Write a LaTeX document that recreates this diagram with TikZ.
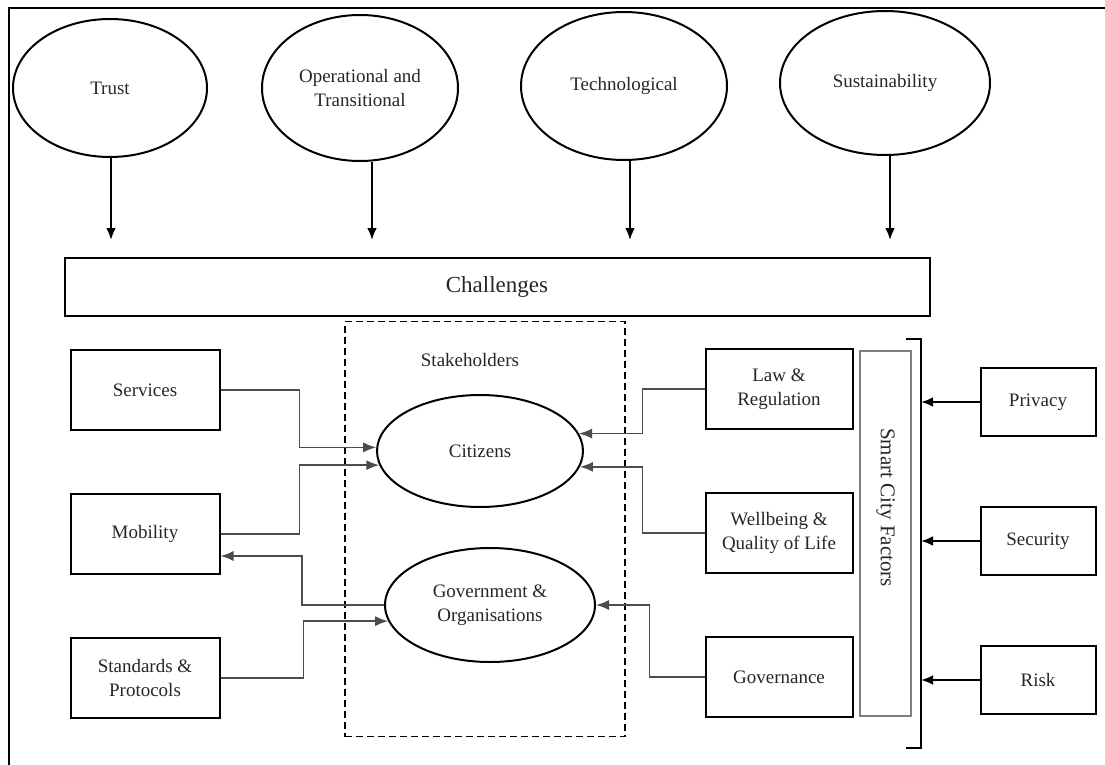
\documentclass[tikz,border=0pt]{standalone}
\usepackage{fontspec}
\setmainfont{Liberation Serif}
\usetikzlibrary{arrows.meta,shapes,positioning,calc}

\begin{document}
\begin{tikzpicture}[
        x=1pt, y=-1pt,
        node distance=144pt,
        txt/.style={font=\fontsize{19}{24}\selectfont, text=black!85},
        oval/.style={ellipse, draw, line width=2pt, inner sep=0pt, align=center, txt},
        fbox/.style={rectangle, draw, line width=2pt, minimum width=149pt, minimum height=80pt, align=center, txt},
        sbox/.style={fbox, minimum width=115pt, minimum height=68pt},
        arrow/.style={-{Latex[length=12pt,width=10pt]}, line width=2.5pt},
        link/.style={-{Latex[length=13pt,width=10pt]}, line width=1.5pt, draw=black!70},
    ]

        \useasboundingbox (0,0) rectangle (1105,765);
        \draw[line width=2.8pt] (1105,8) -- (9,8) -- (9,765);

        % challenge groups
        \node[oval, minimum width=194pt, minimum height=138pt] (trust) at (110,88) {Trust};
        \node[oval, minimum width=196pt, minimum height=146pt] (optr) at (360,88) {Operational and\\Transitional};
        \node[oval, minimum width=206pt, minimum height=148pt] (tech) at (624,86) {Technological};
        \node[oval, minimum width=210pt, minimum height=144pt] (sust) at (885,83) {Sustainability};
        \node[fbox, minimum width=865pt, minimum height=58pt, font=\fontsize{23}{28}\selectfont] (chal) at (497,287) {Challenges};

        \coordinate (trusttip) at (111,240);
        \coordinate (optrtip) at (372,240);
        \coordinate (techtip) at (630,240);
        \coordinate (susttip) at (890,240);
        \draw[arrow] (trust.south -| trusttip) -- (trusttip);
        \draw[arrow] (optr.south -| optrtip) -- (optrtip);
        \draw[arrow] (tech.south -| techtip) -- (techtip);
        \draw[arrow] (sust.south -| susttip) -- (susttip);

        % stakeholders
        \node[draw, line width=1.8pt, dash pattern=on 7pt off 4pt, minimum width=280pt, minimum height=415pt] (stake) at (485,529) {};
        \node[txt] (stlabel) at (470,360) {Stakeholders};
        \node[oval, minimum width=206pt, minimum height=112pt] (citz) at (480,451) {Citizens};
        \node[oval, minimum width=210pt, minimum height=114pt] (gov) at (490,605) {Government \&\\Organisations};

        \node[fbox] (serv) at (145,390) {Services};
        \node[fbox, below of=serv] (mob) {Mobility};
        \node[fbox, below of=mob] (stand) {Standards \&\\Protocols};

        \node[fbox, minimum width=147pt] (law) at (779,389) {Law \&\\Regulation};
        \node[fbox, minimum width=147pt, below of=law] (well) {Wellbeing \&\\Quality of Life};
        \node[fbox, minimum width=147pt, below of=well] (govn) {Governance};

        % smart city factors
        \node[draw=black!50, line width=1.5pt, minimum width=51pt, minimum height=365pt] (scf) at (885.5,533.5) {};
        \node[txt, rotate=-90, font=\fontsize{21}{25}\selectfont] (scftext) at ([yshift=26pt]scf.center) {Smart City Factors};
        \coordinate (brtop) at (921,339);
        \coordinate (brbot) at (921,748);
        \draw[line width=2.5pt] ([xshift=-15pt]brtop) -- (brtop) -- (brbot) -- ([xshift=-15pt]brbot);

        \node[sbox] (priv) at (1038,402) {Privacy};
        \node[sbox, node distance=139pt, below of=priv] (secu) {Security};
        \node[sbox, node distance=139pt, below of=secu] (risk) {Risk};

        \draw[arrow] (priv.west) -- (priv.west -| brtop);
        \draw[arrow] (secu.west) -- (secu.west -| brtop);
        \draw[arrow] (risk.west) -- (risk.west -| brtop);

        \draw[link] (serv.east) -- ++(79,0) |- (citz.178);
        \draw[link] (mob.east) -- ++(79,0) |- (citz.188);
        \draw[link] (gov.west) -- ++(-82,0) |- ([yshift=-22pt]mob.east);
        \draw[link] (stand.east) -- ++(83,0) |- (gov.189);
        \draw[link] (law.west) -- ++(-62,0) |- (citz.10);
        \draw[link] (well.west) -- ++(-62,0) |- (citz.-9);
        \draw[link] (govn.west) -- ++(-55,0) |- (gov.east);

    \end{tikzpicture}
\end{document}
